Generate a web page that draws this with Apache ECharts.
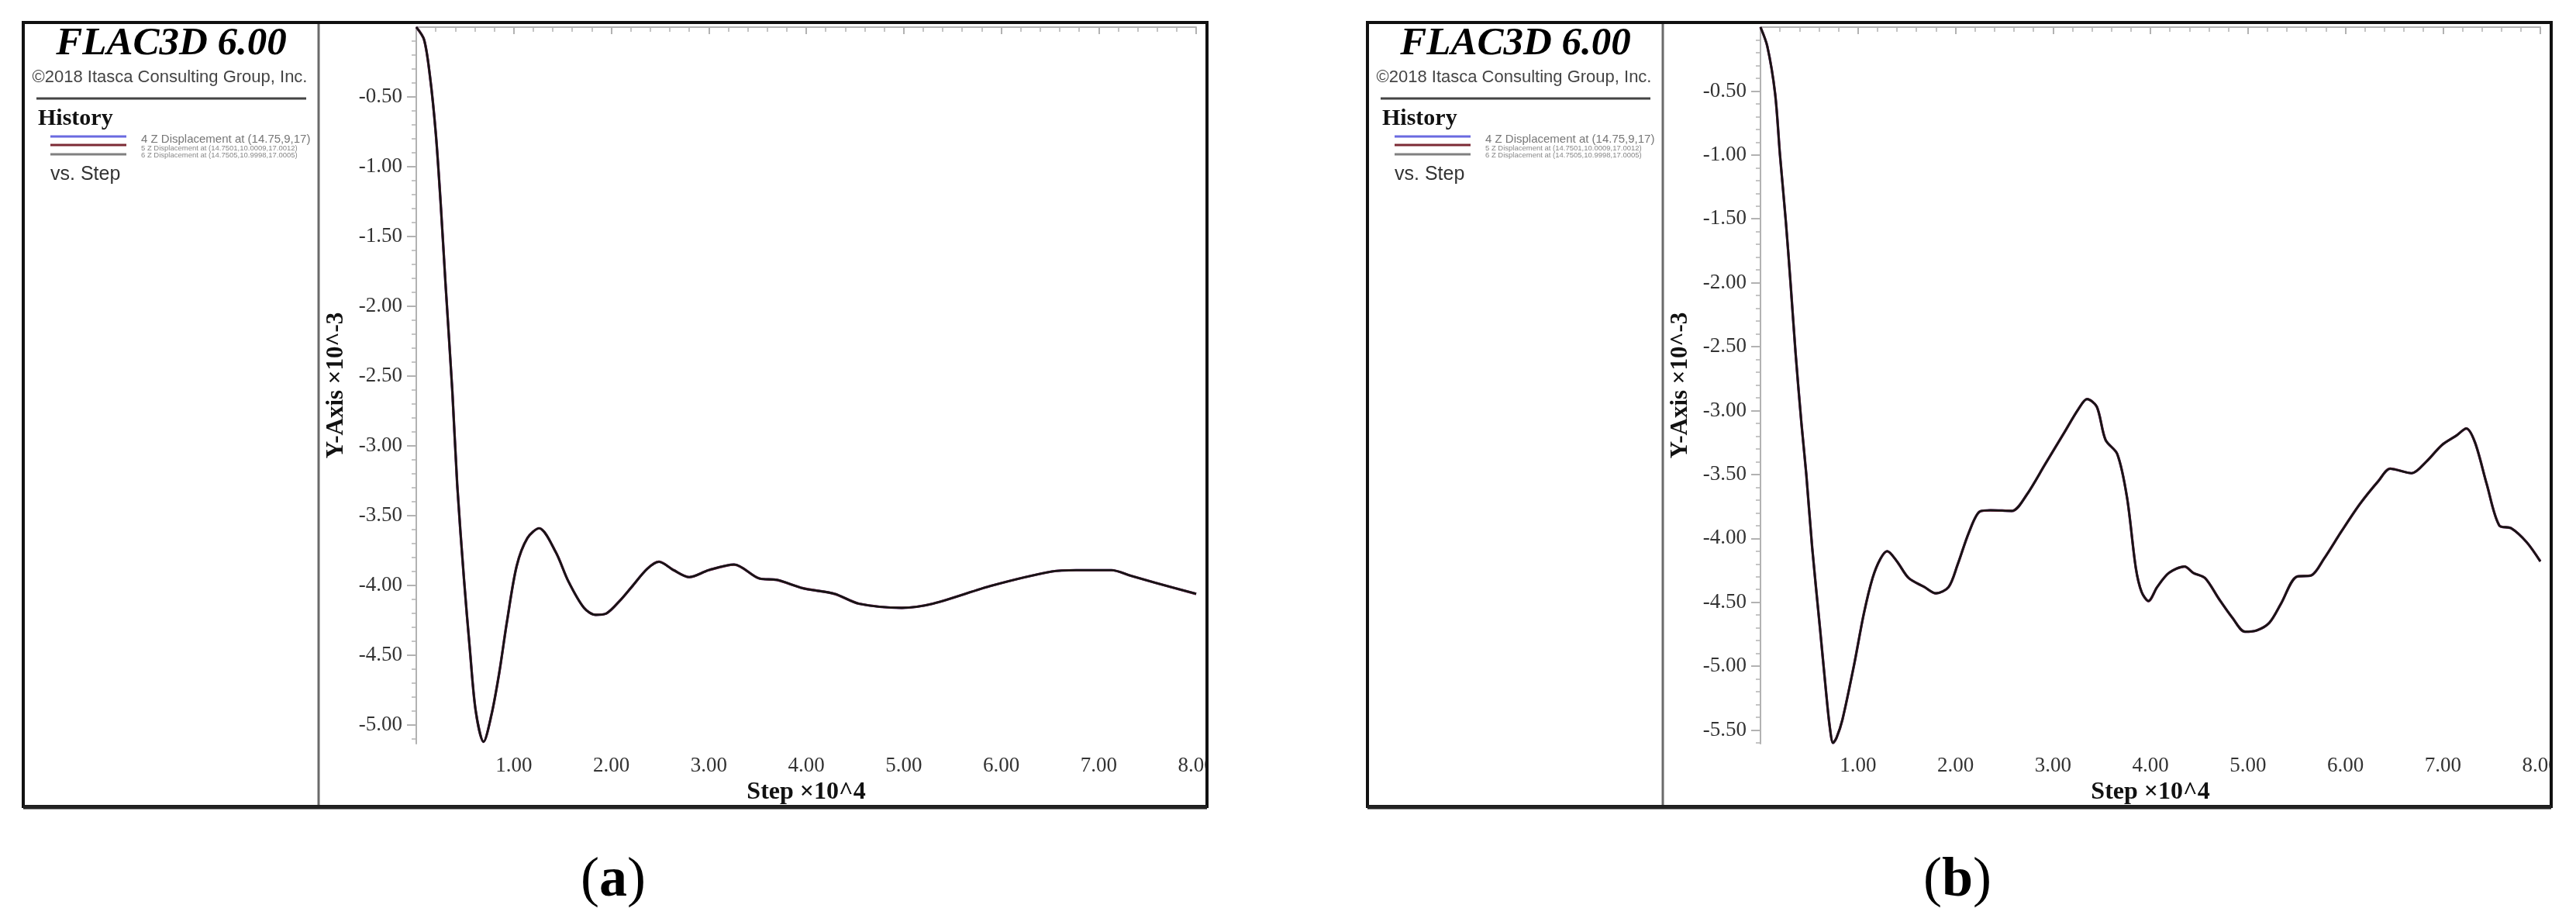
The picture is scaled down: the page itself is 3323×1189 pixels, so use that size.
<!DOCTYPE html>
<html><head><meta charset="utf-8">
<script src="https://cdn.jsdelivr.net/npm/echarts@6/dist/echarts.min.js"></script>
<style>html,body{margin:0;padding:0;background:#fff}#c{width:3323px;height:1189px}</style>
</head><body><div id="c"></div>
<script>
// ---- Data (Step x10^4, Z displacement x10^-3) ----
const stepsA = [0, 0.08, 0.14, 0.20, 0.25, 0.30, 0.37, 0.42, 0.49, 0.55, 0.61, 0.69, 0.77, 0.85, 0.93, 1.03, 1.14, 1.26, 1.43, 1.56, 1.72, 1.84, 1.95, 2.10, 2.21, 2.37, 2.49, 2.64, 2.80, 3.00, 3.26, 3.52, 3.70, 3.97, 4.29, 4.54, 4.98, 5.30, 5.91, 6.52, 6.77, 7.13, 7.33, 7.58, 8.00];
const dispA  = [0, -0.09, -0.35, -0.76, -1.26, -1.84, -2.61, -3.28, -3.96, -4.46, -4.90, -5.12, -4.93, -4.63, -4.26, -3.86, -3.66, -3.59, -3.76, -3.97, -4.16, -4.21, -4.20, -4.10, -4.01, -3.88, -3.83, -3.89, -3.94, -3.89, -3.85, -3.95, -3.96, -4.02, -4.06, -4.13, -4.16, -4.13, -4.00, -3.90, -3.89, -3.89, -3.93, -3.98, -4.06];

const stepsB = [0, 0.07, 0.15, 0.20, 0.26, 0.31, 0.36, 0.42, 0.47, 0.53, 0.61, 0.67, 0.71, 0.745, 0.78, 0.84, 0.96, 1.06, 1.15, 1.23, 1.30, 1.40, 1.52, 1.68, 1.80, 1.93, 2.02, 2.14, 2.25, 2.36, 2.58, 2.73, 2.92, 3.11, 3.26, 3.35, 3.45, 3.54, 3.66, 3.76, 3.85, 3.91, 3.98, 4.07, 4.19, 4.35, 4.44, 4.56, 4.70, 4.84, 4.97, 5.09, 5.22, 5.34, 5.50, 5.65, 5.78, 5.96, 6.15, 6.34, 6.46, 6.68, 6.83, 6.99, 7.14, 7.24, 7.33, 7.45, 7.58, 7.70, 7.86, 8.00];
const dispB  = [0, -0.15, -0.52, -1.00, -1.52, -2.02, -2.55, -3.10, -3.50, -4.07, -4.70, -5.18, -5.47, -5.60, -5.56, -5.42, -4.99, -4.59, -4.31, -4.16, -4.10, -4.18, -4.31, -4.38, -4.43, -4.38, -4.21, -3.95, -3.79, -3.78, -3.785, -3.66, -3.42, -3.18, -2.99, -2.91, -2.97, -3.23, -3.34, -3.68, -4.23, -4.42, -4.49, -4.38, -4.27, -4.22, -4.27, -4.31, -4.47, -4.62, -4.73, -4.72, -4.66, -4.51, -4.30, -4.29, -4.16, -3.945, -3.73, -3.55, -3.455, -3.49, -3.40, -3.27, -3.195, -3.14, -3.25, -3.575, -3.90, -3.92, -4.03, -4.18];

const yMinA = -5.133;
const yMinB = -5.606;
const yLabelsA = [-0.5, -1.0, -1.5, -2.0, -2.5, -3.0, -3.5, -4.0, -4.5, -5.0];
const yLabelsB = [-0.5, -1.0, -1.5, -2.0, -2.5, -3.0, -3.5, -4.0, -4.5, -5.0, -5.5];
const xTickLabels = ['1.00', '2.00', '3.00', '4.00', '5.00', '6.00', '7.00', '8.00'];

const histNames = ['4 Z Displacement at (14.75,9,17)',
                   '5 Z Displacement at (14.7501,10.0009,17.0012)',
                   '6 Z Displacement at (14.7505,10.9998,17.0005)'];
const histColors = ['#6464dc', '#7d2a35', '#151515'];
const swatchColors = ['#6a6ae0', '#7d2a35', '#808080'];
const captionLetters = ['a', 'b'];

// ---- Build ----
const SERIF = "'Liberation Serif', 'Times New Roman', serif";
const SANS = "'Liberation Sans', Arial, sans-serif";
const OFF = 1734;

function minorTicks(yMin) {
  const out = [];
  for (let k = 1; -k / 10 >= yMin; k++) { if (k % 5 !== 0) out.push(-k / 10); }
  return out;
}

const grids = [], xAxes = [], yAxes = [], series = [], graphics = [];
const panels = [
  {steps: stepsA, disp: dispA, yMin: yMinA, yLabels: yLabelsA},
  {steps: stepsB, disp: dispB, yMin: yMinB, yLabels: yLabelsB}
];

panels.forEach((p, i) => {
  const off = OFF * i;
  grids.push({left: 537 + off, top: 35, width: 1006, height: 924});
  xAxes.push({
    gridIndex: i, type: 'value', min: 0, max: 8, interval: 1,
    axisLine: {lineStyle: {color: '#b2b2b2', width: 2}},
    axisTick: {show: true, length: 9, lineStyle: {color: '#b2b2b2', width: 2}},
    minorTick: {show: true, splitNumber: 5, length: 6, lineStyle: {color: '#b2b2b2', width: 1.5}},
    splitLine: {show: false},
    axisLabel: {formatter: v => (v < 0.5 ? '' : xTickLabels[Math.round(v) - 1]),
                fontFamily: SERIF, fontSize: 27, color: '#333', margin: 15},
    name: 'Step ×10^4', nameLocation: 'middle', nameGap: 44,
    nameTextStyle: {fontFamily: SERIF, fontWeight: 'bold', fontSize: 32, color: '#111'}
  });
  yAxes.push({
    gridIndex: i, type: 'value', min: p.yMin, max: 0,
    axisLine: {show: true, lineStyle: {color: '#b2b2b2', width: 2}},
    axisTick: {show: true, length: 12, customValues: p.yLabels, lineStyle: {color: '#b2b2b2', width: 2}},
    axisLabel: {customValues: p.yLabels, formatter: v => v.toFixed(2),
                fontFamily: SERIF, fontSize: 27, color: '#333', margin: 18},
    splitLine: {show: false},
    name: 'Y-Axis ×10^-3', nameLocation: 'middle', nameGap: 88, nameRotate: 90,
    nameTextStyle: {fontFamily: SERIF, fontWeight: 'bold', fontSize: 31, color: '#111'}
  });
  yAxes.push({
    gridIndex: i, type: 'value', min: p.yMin, max: 0, position: 'left',
    axisLine: {show: false},
    axisTick: {show: true, length: 6, customValues: minorTicks(p.yMin), lineStyle: {color: '#b2b2b2', width: 1.5}},
    axisLabel: {show: false},
    splitLine: {show: false}
  });
  const pts = p.steps.map((s, k) => [s, p.disp[k]]);
  histNames.forEach((n, h) => {
    series.push({
      type: 'line', name: n + ' ' + i, xAxisIndex: i, yAxisIndex: i * 2,
      data: pts, showSymbol: false, smooth: 0.3,
      lineStyle: {color: histColors[h], width: h === 2 ? 2.6 : 3.2},
      z: 2 + h, silent: true
    });
  });

  // Side panel (legend block)
  graphics.push(
    {type: 'text', x: 221 + off, y: 57, z: 50, style: {text: 'FLAC3D 6.00', fontFamily: SERIF, fontStyle: 'italic', fontWeight: 'bold', fontSize: 51, fill: '#000', align: 'center', verticalAlign: 'middle'}},
    {type: 'text', x: 219 + off, y: 100, z: 50, style: {text: '©2018 Itasca Consulting Group, Inc.', fontFamily: SANS, fontSize: 22, fill: '#444', align: 'center', verticalAlign: 'middle'}},
    {type: 'line', z: 50, shape: {x1: 47 + off, y1: 127, x2: 395 + off, y2: 127}, style: {stroke: '#444', lineWidth: 3}},
    {type: 'text', x: 49 + off, y: 153, z: 50, style: {text: 'History', fontFamily: SERIF, fontWeight: 'bold', fontSize: 30, fill: '#111', align: 'left', verticalAlign: 'middle'}},
    {type: 'line', z: 50, shape: {x1: 65 + off, y1: 176, x2: 163 + off, y2: 176}, style: {stroke: swatchColors[0], lineWidth: 3}},
    {type: 'line', z: 50, shape: {x1: 65 + off, y1: 187, x2: 163 + off, y2: 187}, style: {stroke: swatchColors[1], lineWidth: 3}},
    {type: 'line', z: 50, shape: {x1: 65 + off, y1: 199, x2: 163 + off, y2: 199}, style: {stroke: swatchColors[2], lineWidth: 3}},
    {type: 'text', x: 182 + off, y: 180, z: 50, style: {text: histNames[0], fontFamily: SANS, fontSize: 15, fill: '#777', align: 'left', verticalAlign: 'middle'}},
    {type: 'text', x: 182 + off, y: 191, z: 50, style: {text: histNames[1], fontFamily: SANS, fontSize: 9.5, fill: '#888', align: 'left', verticalAlign: 'middle'}},
    {type: 'text', x: 182 + off, y: 200, z: 50, style: {text: histNames[2], fontFamily: SANS, fontSize: 9.5, fill: '#888', align: 'left', verticalAlign: 'middle'}},
    {type: 'text', x: 65 + off, y: 225, z: 50, style: {text: 'vs. Step', fontFamily: SANS, fontSize: 25, fill: '#333', align: 'left', verticalAlign: 'middle'}},
    // divider
    {type: 'line', z: 50, shape: {x1: 411 + off, y1: 30, x2: 411 + off, y2: 1040}, style: {stroke: '#6a6a6a', lineWidth: 3}},
    // caption: "(a)" with bold letter
    {type: 'text', x: 791 + off, y: 1136, z: 50, style: {
      text: '{p|(}{b|' + captionLetters[i] + '}{p|)}', align: 'center', verticalAlign: 'middle',
      rich: {p: {fontFamily: SERIF, fontSize: 72, fill: '#000'},
             b: {fontFamily: SERIF, fontSize: 72, fontWeight: 'bold', fill: '#000'}}}}
  );
});

// white masks clipping the last tick label at the frame, then frames
graphics.push(
  {type: 'rect', z: 90, shape: {x: 1559, y: 0, width: 203, height: 1100}, style: {fill: '#fff'}},
  {type: 'rect', z: 90, shape: {x: 3293, y: 0, width: 40, height: 1100}, style: {fill: '#fff'}},
  {type: 'rect', z: 95, shape: {x: 30, y: 29, width: 1527, height: 1011}, style: {fill: 'none', stroke: '#111', lineWidth: 4}},
  {type: 'rect', z: 95, shape: {x: 30 + OFF, y: 29, width: 1527, height: 1011}, style: {fill: 'none', stroke: '#111', lineWidth: 4}},
  {type: 'line', z: 95, shape: {x1: 30, y1: 1041, x2: 1557, y2: 1041}, style: {stroke: '#222', lineWidth: 5}},
  {type: 'line', z: 95, shape: {x1: 30 + OFF, y1: 1041, x2: 1557 + OFF, y2: 1041}, style: {stroke: '#222', lineWidth: 5}}
);

const chart = echarts.init(document.getElementById('c'), null, {renderer: 'canvas'});
chart.setOption({
  backgroundColor: '#fff',
  animation: false,
  grid: grids, xAxis: xAxes, yAxis: yAxes, series: series,
  graphic: {elements: graphics}
});
</script></body></html>
